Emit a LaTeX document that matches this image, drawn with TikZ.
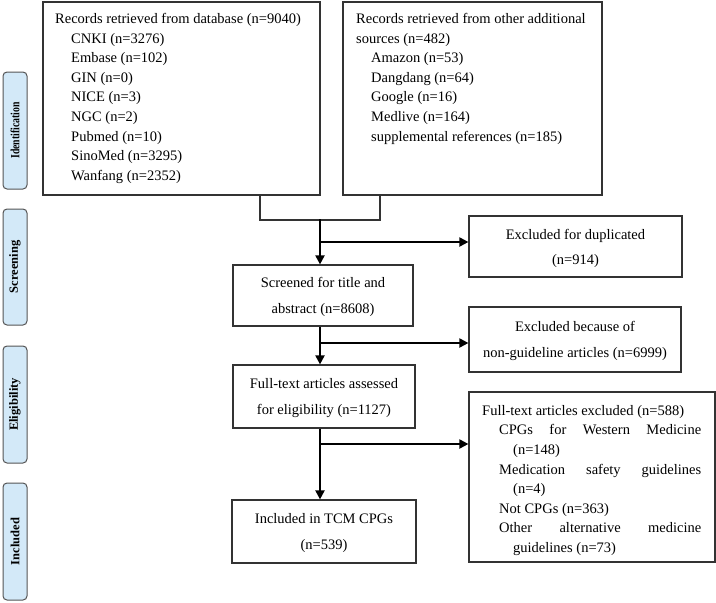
\documentclass[tikz,border=0pt]{standalone}
\usepackage{graphicx}
\usepackage{fontspec}
\setmainfont{Liberation Serif}
\usetikzlibrary{arrows.meta}
\definecolor{boxline}{HTML}{333333}
\definecolor{sidefill}{HTML}{D3E9F8}
\definecolor{sideline}{HTML}{555555}
\begin{document}
\begin{tikzpicture}[x=1pt,y=-1pt,
  box/.style={draw=boxline,line width=1.2pt,fill=white,inner sep=0pt},
  txt/.style={inner sep=0pt,anchor=north west,align=left,font=\fontsize{14.5}{19.6}\selectfont},
  ctxt/.style={inner sep=0pt,align=center,font=\fontsize{14.5}{25.5}\selectfont},
  side/.style={draw=sideline,line width=1pt,fill=sidefill,rounded corners=4pt,rotate=90,
    minimum height=24pt,inner sep=0pt,font=\fontsize{12.5}{14}\selectfont\bfseries},
  conn/.style={draw=boxline,line width=1.5pt},
  arr/.style={draw=black,line width=2pt,-{Triangle[length=9pt,width=9pt]}}]
\useasboundingbox (0,0) rectangle (716,603);
% side labels
\node[side,minimum width=117pt] (sid) at (15,130.5) {\scalebox{0.78}[1]{Identification}};
\node[side,minimum width=116pt] (sscr) at (15,267) {Screening};
\node[side,minimum width=117pt] (selg) at (15,404.5) {Eligibility};
\node[side,minimum width=117pt] (sinc) at (15,541.5) {Included};
% boxes
\node[box,minimum width=277pt,minimum height=193pt] (db) at (181.5,98.5) {};
\node[box,minimum width=259pt,minimum height=193pt] (oth) at (472.5,98.5) {};
\node[box,minimum width=213pt,minimum height=61pt] (dup) at (575.5,246.5) {};
\node[box,minimum width=180pt,minimum height=61pt] (scr) at (323,295.5) {};
\node[box,minimum width=212pt,minimum height=65pt] (exc) at (575,339.5) {};
\node[box,minimum width=182pt,minimum height=63pt] (elg) at (324,396.5) {};
\node[box,minimum width=246pt,minimum height=170pt] (ftx) at (592,477) {};
\node[box,minimum width=184pt,minimum height=63pt] (inc) at (324,531.5) {};
% texts
\node[txt] (tdb) at (55,13) {Records retrieved from database (n=9040)\\
\hspace{16pt}CNKI (n=3276)\\
\hspace{16pt}Embase (n=102)\\
\hspace{16pt}GIN (n=0)\\
\hspace{16pt}NICE (n=3)\\
\hspace{16pt}NGC (n=2)\\
\hspace{16pt}Pubmed (n=10)\\
\hspace{16pt}SinoMed (n=3295)\\
\hspace{16pt}Wanfang (n=2352)};
\node[txt] (toth) at (356,13) {Records retrieved from other additional\\
sources (n=482)\\
\hspace{15pt}Amazon (n=53)\\
\hspace{15pt}Dangdang (n=64)\\
\hspace{15pt}Google (n=16)\\
\hspace{15pt}Medlive (n=164)\\
\hspace{15pt}supplemental references (n=185)};
\node[ctxt] (tdup) at ([yshift=-2pt]dup.center) {Excluded for duplicated\\(n=914)};
\node[ctxt] (tscr) at ([yshift=-1.5pt]scr.center) {Screened for title and\\abstract (n=8608)};
\node[ctxt] (texc) at ([yshift=-1.5pt]exc.center) {Excluded because of\\non-guideline articles (n=6999)};
\node[ctxt] (telg) at ([yshift=-1.5pt]elg.center) {Full-text articles assessed\\for eligibility (n=1127)};
\node[ctxt] (tinc) at ([yshift=-1.5pt]inc.center) {Included in TCM CPGs\\(n=539)};
\node[txt] (tftx) at (482,405) {Full-text articles excluded (n=588)\\
\hspace{17pt}\makebox[202pt][s]{CPGs for Western Medicine}\\
\hspace{31pt}(n=148)\\
\hspace{17pt}\makebox[202pt][s]{Medication safety guidelines}\\
\hspace{31pt}(n=4)\\
\hspace{17pt}Not CPGs (n=363)\\
\hspace{17pt}\makebox[202pt][s]{Other alternative medicine}\\
\hspace{31pt}guidelines (n=73)};
% connectors
\coordinate (j1) at (260,220);
\coordinate (j2) at (380,220);
\coordinate (jm) at (320,220);
\coordinate (s1) at (320,242);
\coordinate (s2) at (320,343);
\coordinate (s3) at (320,444);
\draw[conn] (db.south -| j1) -- (j1) -- (j2) -- (oth.south -| j2);
\draw[arr] ([yshift=0.75pt]jm) -- (scr.north -| jm);
\draw[arr] (s1) -- (s1 -| dup.west);
\draw[arr] (scr.south -| jm) -- (elg.north -| jm);
\draw[arr] (s2) -- (s2 -| exc.west);
\draw[arr] (elg.south -| jm) -- (inc.north -| jm);
\draw[arr] (s3) -- (s3 -| ftx.west);
\end{tikzpicture}
\end{document}
